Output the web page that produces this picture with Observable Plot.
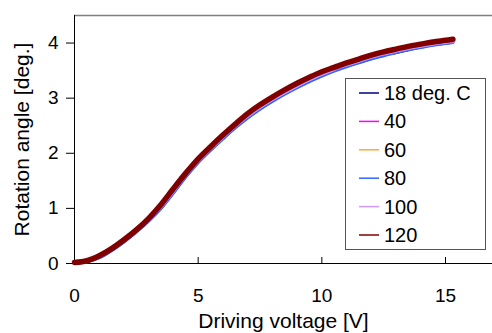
<!DOCTYPE html>
<html>
<head>
<meta charset="utf-8">
<script src="https://cdn.jsdelivr.net/npm/d3@7"></script>
<script src="https://cdn.jsdelivr.net/npm/@observablehq/plot@0.6"></script>
<style>
  html, body { margin: 0; padding: 0; background: #fff; }
  #chart { width: 492px; height: 333px; }
  svg { font-family: "Liberation Sans", Arial, sans-serif; color: #000; }
</style>
</head>
<body>
<div id="chart"></div>
<script>
const voltage = [0, 0.5, 1, 1.5, 2, 2.5, 3, 3.5, 4, 4.5, 5, 5.5, 6, 6.5, 7, 7.5, 8, 8.5, 9, 9.5, 10, 10.5, 11, 11.5, 12, 12.5, 13, 13.5, 14, 14.5, 15, 15.3];
const seriesNames = ["18 deg. C", "40", "60", "80", "100", "120"];
const seriesColors = ["#000080", "#FF00FF", "#FFAA33", "#3366FF", "#CC99FF", "#800000"];
const angle18  = [0.01,0.04,0.11,0.24,0.40,0.59,0.79,1.01,1.29,1.58,1.84,2.06,2.27,2.47,2.65,2.81,2.95,3.08,3.20,3.31,3.41,3.50,3.58,3.65,3.72,3.78,3.83,3.88,3.93,3.97,4.00,4.02];
const angle40  = [0.02,0.04,0.12,0.25,0.41,0.60,0.80,1.02,1.30,1.59,1.85,2.07,2.28,2.48,2.66,2.82,2.96,3.09,3.21,3.32,3.42,3.51,3.59,3.66,3.73,3.79,3.84,3.89,3.93,3.97,4.00,4.02];
const angle60  = [0.01,0.03,0.11,0.24,0.40,0.58,0.78,1.01,1.29,1.58,1.84,2.06,2.27,2.47,2.65,2.81,2.95,3.08,3.20,3.31,3.41,3.50,3.58,3.65,3.72,3.78,3.84,3.89,3.93,3.97,4.00,4.02];
const angle80  = [0.00,0.03,0.10,0.23,0.39,0.57,0.77,1.00,1.28,1.57,1.83,2.05,2.26,2.46,2.64,2.80,2.94,3.07,3.19,3.30,3.40,3.49,3.57,3.64,3.71,3.77,3.83,3.88,3.92,3.96,3.99,4.01];
const angle100 = [0.01,0.04,0.12,0.25,0.41,0.59,0.79,1.03,1.31,1.60,1.86,2.08,2.29,2.49,2.67,2.83,2.97,3.10,3.22,3.33,3.43,3.52,3.60,3.67,3.74,3.80,3.85,3.90,3.94,3.98,4.01,4.03];
const angle120 = [0.02,0.05,0.14,0.27,0.43,0.61,0.82,1.07,1.36,1.64,1.90,2.12,2.33,2.53,2.72,2.88,3.02,3.15,3.27,3.38,3.48,3.56,3.64,3.71,3.78,3.84,3.89,3.94,3.98,4.02,4.05,4.07];
const xTicks = [0, 5, 10, 15];
const yTicks = [0, 1, 2, 3, 4];

const allSeries = [angle18, angle40, angle60, angle80, angle100, angle120];
const rows = [];
allSeries.forEach((vals, si) => vals.forEach((a, i) => rows.push({series: seriesNames[si], v: voltage[i], a})));

const lineMarks = seriesNames.map((name, si) =>
  Plot.line(rows.filter(r => r.series === name), {
    x: "v", y: "a", stroke: seriesColors[si],
    strokeWidth: name === "120" ? 5.5 : 3, curve: "catmull-rom"
  })
);

const chart = Plot.plot({
  width: 492,
  height: 333,
  marginLeft: 74,
  marginRight: 0,
  marginTop: 15,
  marginBottom: 70,
  style: {fontFamily: '"Liberation Sans", Arial, sans-serif', color: "#000", background: "#fff"},
  x: {domain: [0, 16.9]},
  y: {domain: [0, 4.5]},
  marks: [
    Plot.ruleY([4.5], {stroke: "#808080", strokeWidth: 1.5}),
    Plot.ruleX([0], {stroke: "#000", strokeWidth: 1}),
    Plot.ruleY([0], {stroke: "#000", strokeWidth: 1}),
    Plot.axisY(yTicks, {tickSize: 8, tickPadding: 8, fontSize: 19, label: null, stroke: "#000", tickFormat: d => String(d)}),
    Plot.axisX(xTicks, {tickSize: 0, tickPadding: 25, fontSize: 19, label: null, tickFormat: d => String(d)}),
    Plot.axisX(xTicks, {tickSize: 6, dy: -6, text: null, label: null, stroke: "#000"}),
    ...lineMarks,
    Plot.text(["Rotation angle [deg.]"], {frameAnchor: "left", dx: -52, rotate: -90, fontSize: 21, fill: "#000", textAnchor: "middle", lineAnchor: "middle"}),
    Plot.text(["Driving voltage [V]"], {frameAnchor: "bottom", dy: 58, fontSize: 21, fill: "#000", textAnchor: "middle", lineAnchor: "middle"})
  ]
});

document.getElementById("chart").appendChild(chart);

// Legend box
const svg = d3.select(chart);
const lg = svg.append("g").attr("class", "legend").attr("text-anchor", "start");
lg.append("rect").attr("x", 345.5).attr("y", 78.5).attr("width", 140).attr("height", 171)
  .attr("fill", "#fff").attr("stroke", "#555").attr("stroke-width", 1);
seriesNames.forEach((name, i) => {
  const y = 93 + i * 28.4;
  lg.append("line").attr("x1", 359).attr("x2", 379).attr("y1", y).attr("y2", y)
    .attr("stroke", seriesColors[i]).attr("stroke-width", 1.5);
  lg.append("text").attr("x", 384).attr("y", y).attr("dy", "0.35em")
    .attr("text-anchor", "start")
    .attr("font-size", 20).attr("fill", "#000").text(name);
});
</script>
</body>
</html>
